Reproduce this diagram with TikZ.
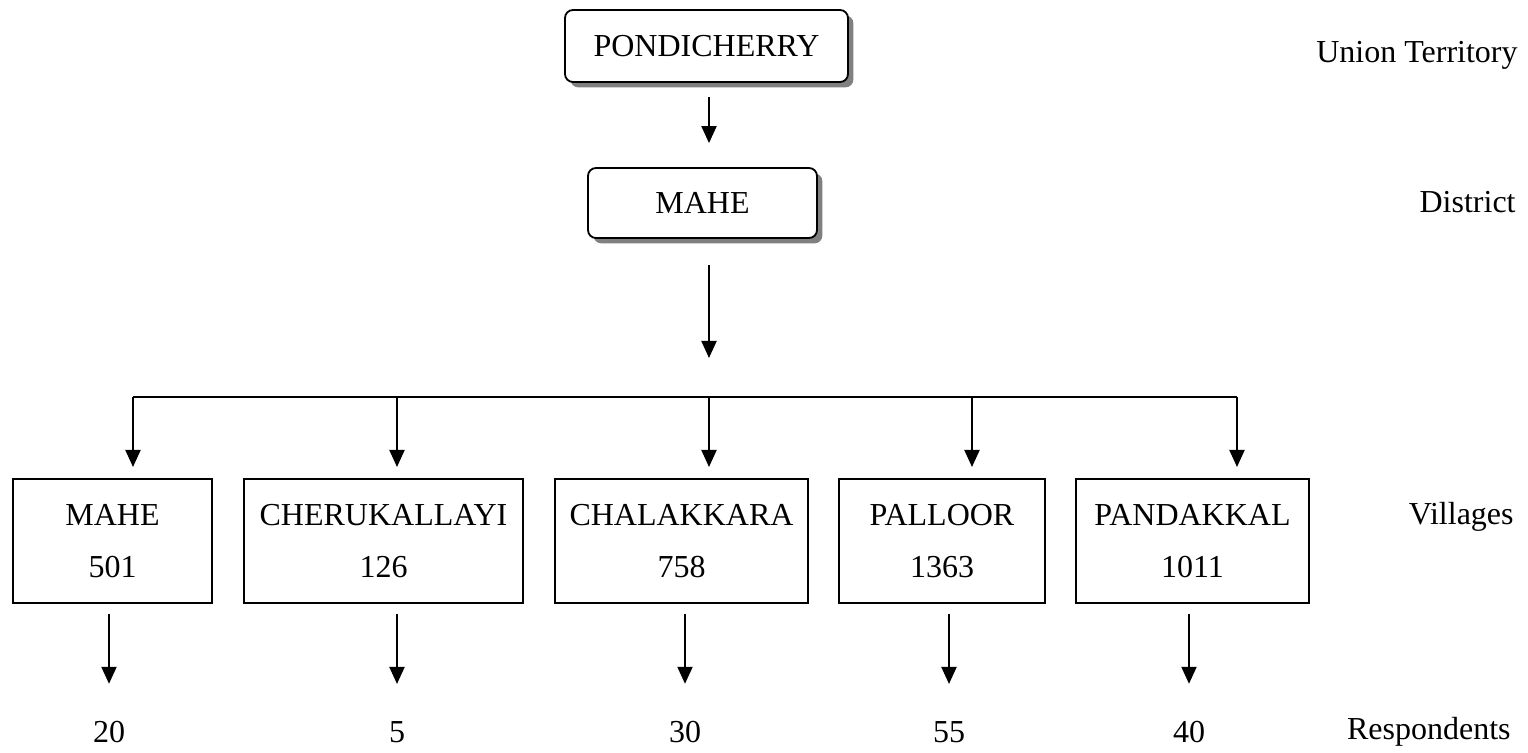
\documentclass[tikz,border=0pt]{standalone}
\usepackage{fontspec}
\setmainfont{Liberation Serif}
\usetikzlibrary{arrows.meta,shadows,calc}
\begin{document}
\begin{tikzpicture}[x=0.5pt,y=-0.5pt,
  txt/.style={font=\fontsize{16}{19}\selectfont, inner sep=0pt},
  topbox/.style={draw, line width=0.9pt, rounded corners=4pt, fill=white,
    font=\fontsize{16}{19}\selectfont, inner sep=0pt,
    drop shadow={shadow xshift=2.7pt, shadow yshift=-2.7pt, fill=black!50, opacity=1}},
  vbox/.style={draw, line width=1pt, fill=white, align=center, inner sep=0pt,
    font=\fontsize{16}{26}\selectfont, minimum height=62pt},
  arr/.style={line width=1pt, -{Triangle[width=7.5pt,length=8.5pt]}},
  bus/.style={line width=0.9pt}]
\useasboundingbox (0,0) rectangle (1528,753);

% top boxes
\node[topbox, minimum width=141.5pt, minimum height=36pt] (pond) at (706.5,46) {PONDICHERRY};
\node[topbox, minimum width=114.5pt, minimum height=35pt] (dist) at (702.5,203) {MAHE};

% villages
\node[vbox, minimum width=99.5pt] (v1) at (112.5,541) {MAHE\\501};
\node[vbox, minimum width=139.5pt] (v2) at (383.5,541) {CHERUKALLAYI\\126};
\node[vbox, minimum width=126.5pt] (v3) at (681.5,541) {CHALAKKARA\\758};
\node[vbox, minimum width=103pt] (v4) at (942,541) {PALLOOR\\1363};
\node[vbox, minimum width=116.5pt] (v5) at (1192.5,541) {PANDAKKAL\\1011};

% respondents
\node[txt] (r1) at (109,732) {20};
\node[txt] (r2) at (397,732) {5};
\node[txt] (r3) at (685,732) {30};
\node[txt] (r4) at (949,732) {55};
\node[txt] (r5) at (1189,732) {40};

% right labels
\node[txt, anchor=east] (lut) at (1518,55) {Union Territory};
\node[txt, anchor=east] (ldi) at (1516,202) {District};
\node[txt, anchor=east] (lvi) at (1514,517) {Villages};
\node[txt, anchor=east] (lre) at (1511,732) {Respondents};

% top arrows
\coordinate (a1) at (709,97);
\draw[arr, shorten >=12pt] (a1) -- (a1 |- dist.north);
\coordinate (a2) at (709,265);
\coordinate (a2e) at (709,358);
\draw[arr] (a2) -- (a2e);

% bus
\coordinate (d1) at (133,397);
\coordinate (d2) at (397,397);
\coordinate (d3) at (709,397);
\coordinate (d4) at (972,397);
\coordinate (d5) at (1237,397);
\draw[bus] (d1) -- (d5);
\foreach \i in {1,...,5}{
  \draw[arr, shorten >=5.5pt] (d\i) -- (d\i |- v\i.north);
  \draw[arr, shorten <=5pt, shorten >=18.5pt] (r\i |- v\i.south) -- (r\i.north);
}
\end{tikzpicture}
\end{document}
